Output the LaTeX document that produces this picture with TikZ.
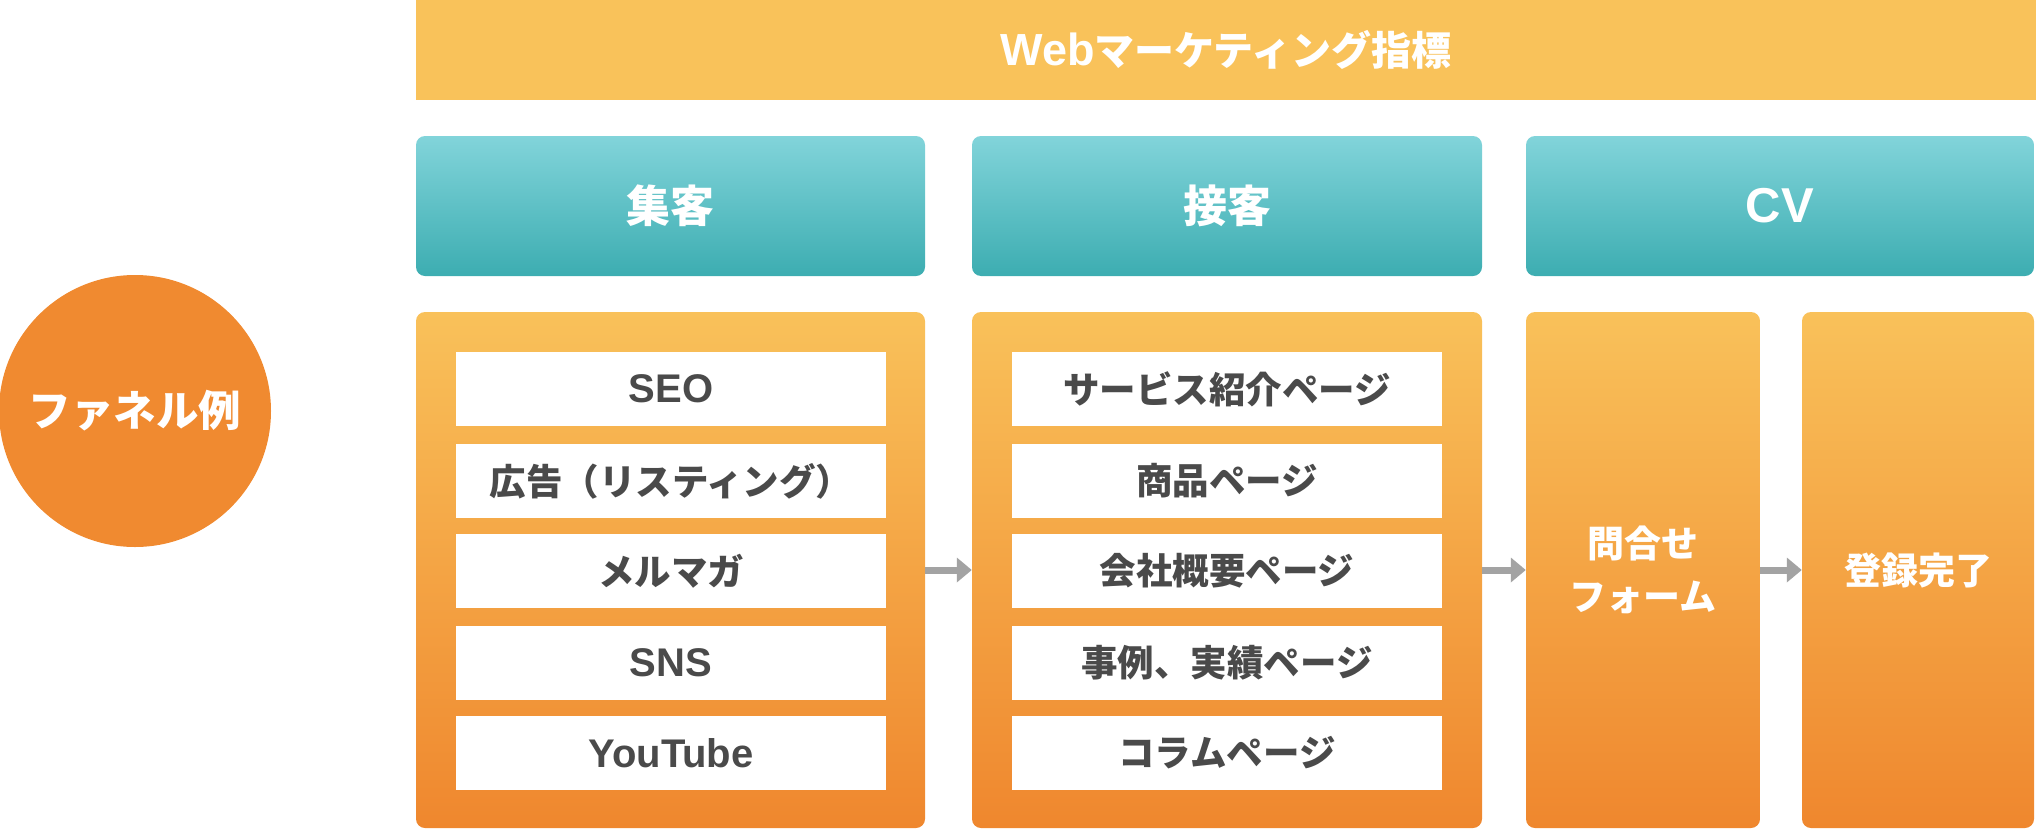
\documentclass[tikz,border=0pt]{standalone}
\usepackage{fontspec}
\setmainfont{Noto Sans CJK JP}
\newfontfamily\lat{Liberation Sans}
\usetikzlibrary{arrows.meta}
\definecolor{bannerc}{HTML}{F9C25A}
\definecolor{tealtop}{HTML}{82D4DA}
\definecolor{tealbot}{HTML}{3CADB1}
\definecolor{orgtop}{HTML}{F9C15A}
\definecolor{orgbot}{HTML}{EF872E}
\definecolor{circc}{HTML}{F08A30}
\definecolor{txtc}{HTML}{4A4A4A}
\definecolor{arrc}{HTML}{A3A3A3}
\tikzset{
  banner/.style={fill=bannerc, minimum width=1620pt, minimum height=100pt, inner sep=0pt,
    text=white, font=\fontsize{40}{46}\selectfont\bfseries},
  header/.style={rounded corners=9pt, top color=tealtop, bottom color=tealbot, minimum height=140pt,
    inner sep=0pt, text=white, font=\fontsize{44}{50}\selectfont\bfseries},
  column/.style={rounded corners=9pt, top color=orgtop, bottom color=orgbot, minimum height=516pt,
    inner sep=0pt, text=white, align=center, font=\fontsize{37}{53}\selectfont\bfseries},
  item/.style={fill=white, minimum width=430pt, minimum height=74pt, inner sep=0pt,
    text=txtc, font=\fontsize{36.5}{42}\selectfont\bfseries},
  funnel/.style={circle, fill=circc, minimum size=272pt, inner sep=0pt, text=white,
    font=\fontsize{42.5}{48}\selectfont\bfseries},
  arr/.style={draw=arrc, line width=7pt, -{Triangle[length=15pt,width=24pt]}}
}
\begin{document}
\begin{tikzpicture}[x=1pt,y=-1pt]
\useasboundingbox (0,0) rectangle (2036,830);
\node[banner] (ban) at (1226,50) {{\lat\fontsize{45}{50}\selectfont Web}マーケティング指標};
\node[header, minimum width=509pt] (h1) at (670.5,206) {集客};
\node[header, minimum width=510pt] (h2) at (1227,206) {接客};
\node[header, minimum width=508pt] (h3) at (1780,206) {\lat\fontsize{49}{54}\selectfont CV};
\node[funnel] (fun) at (135,411) {ファネル例};
\node[column, minimum width=509pt] (c1) at (670.5,570) {};
\node[column, minimum width=510pt] (c2) at (1227,570) {};
\node[column, minimum width=234pt] (c3) at (1643,570) {問合せ\\フォーム};
\node[column, minimum width=232pt] (c4) at (1918,570) {登録完了};
\node[item] (a1) at (671,389) {\lat\fontsize{40}{46}\selectfont SEO};
\node[item] (a2) at (671,481) {広告（リスティング）};
\node[item] (a3) at (671,571) {メルマガ};
\node[item] (a4) at (671,663) {\lat\fontsize{40}{46}\selectfont SNS};
\node[item] (a5) at (671,753) {\lat\fontsize{40}{46}\selectfont YouTube};
\node[item] (b1) at (1227,389) {サービス紹介ページ};
\node[item] (b2) at (1227,481) {商品ページ};
\node[item] (b3) at (1227,571) {会社概要ページ};
\node[item] (b4) at (1227,663) {事例、実績ページ};
\node[item] (b5) at (1227,753) {コラムページ};
\draw[arr] (c1) -- (c2);
\draw[arr] (c2) -- (c3);
\draw[arr] (c3) -- (c4);
\end{tikzpicture}
\end{document}
